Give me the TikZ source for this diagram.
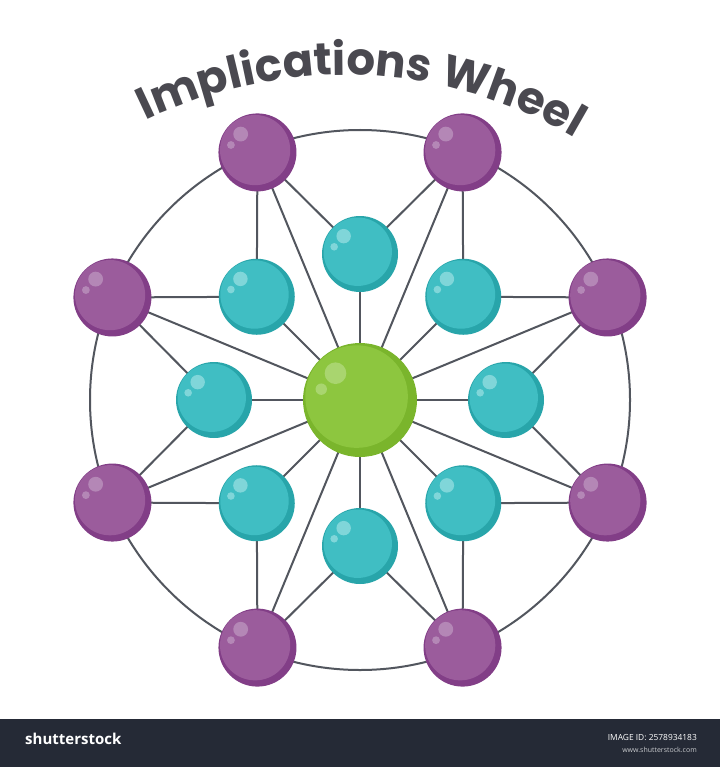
\documentclass[tikz,border=0pt]{standalone}
\usepackage{fontspec}
\newfontfamily\titlefont{Poppins}
\newfontfamily\logofont{Open Sans}
\usetikzlibrary{decorations.text,backgrounds,calc}
\definecolor{linec}{HTML}{52565E}
\definecolor{titlec}{HTML}{4A4950}
\definecolor{pdark}{HTML}{823E87}
\definecolor{pmain}{HTML}{9B5C9C}
\definecolor{phl}{HTML}{B487B6}
\definecolor{tdark}{HTML}{28A5AA}
\definecolor{tmain}{HTML}{40BEC3}
\definecolor{thl}{HTML}{80D6D9}
\definecolor{gdark}{HTML}{7AB52C}
\definecolor{gmain}{HTML}{8DC63F}
\definecolor{ghl}{HTML}{A9D56F}
\definecolor{banner}{HTML}{252A36}
\begin{document}
\begin{tikzpicture}[x=1pt,y=1pt,
  conn/.style={draw=linec, line width=2pt},
  ball/.style n args={4}{circle, inner sep=0pt, minimum size=2*#1, fill=#2,
    path picture={
      \fill[#3] ([shift={(-0.06*#1,0.06*#1)}]path picture bounding box.center) circle[radius=0.9*#1];
      \fill[#4] ([shift={(-0.43*#1,0.47*#1)}]path picture bounding box.center) circle[radius=0.19*#1];
      \fill[#4] ([shift={(-0.68*#1,0.19*#1)}]path picture bounding box.center) circle[radius=0.1*#1];
    }},
  purpleball/.style={ball={39}{pdark}{pmain}{phl}},
  tealball/.style={ball={38}{tdark}{tmain}{thl}},
  greenball/.style={ball={57}{gdark}{gmain}{ghl}},
  bantext/.style={text=white, inner sep=0pt}
]
\useasboundingbox (0,0) rectangle (720,-767);

% balls
\node[greenball] (g) at (360,-400) {};
\foreach \i in {0,...,7} {
  \path (g.center) ++(45*\i:146) node[tealball] (t\i) {};
  \path (g.center) ++(22.5+45*\i:268) node[purpleball] (p\i) {};
}

% connectors below
\begin{scope}[on background layer]
  \fill[white] (0,0) rectangle (720,-767);
  \draw[conn] (g.center) circle[radius=270];
  \foreach \i in {0,...,7} {
    \pgfmathtruncatemacro\j{mod(\i+1,8)}
    \draw[conn] (g.center) -- (t\i.center);
    \draw[conn] (g.center) -- (p\i.center);
    \draw[conn] (p\i.center) -- (t\i.center);
    \draw[conn] (p\i.center) -- (t\j.center);
  }
\end{scope}

% title
\path[decorate, decoration={text along path, text align=center, text color=titlec,
  text={|\titlefont\bfseries\fontsize{45}{45}\selectfont|Implications Wheel}}]
  (344,-529) ++(119.7:454) arc[start angle=119.7, end angle=55.7, radius=454];

% banner
\fill[banner] (0,-719) rectangle (720,-767);
\node[bantext, anchor=west] (logo) at (25,-739) {\logofont\bfseries\fontsize{15}{15}\selectfont shutterstock};
\node[bantext, anchor=east] (imgid) at (697,-738) {\logofont\fontsize{8.4}{9}\selectfont IMAGE ID: 2578934183};
\node[bantext, anchor=east, text=white!75!banner] (www) at (697,-750) {\logofont\fontsize{7}{8}\selectfont www.shutterstock.com};
\end{tikzpicture}
\end{document}
